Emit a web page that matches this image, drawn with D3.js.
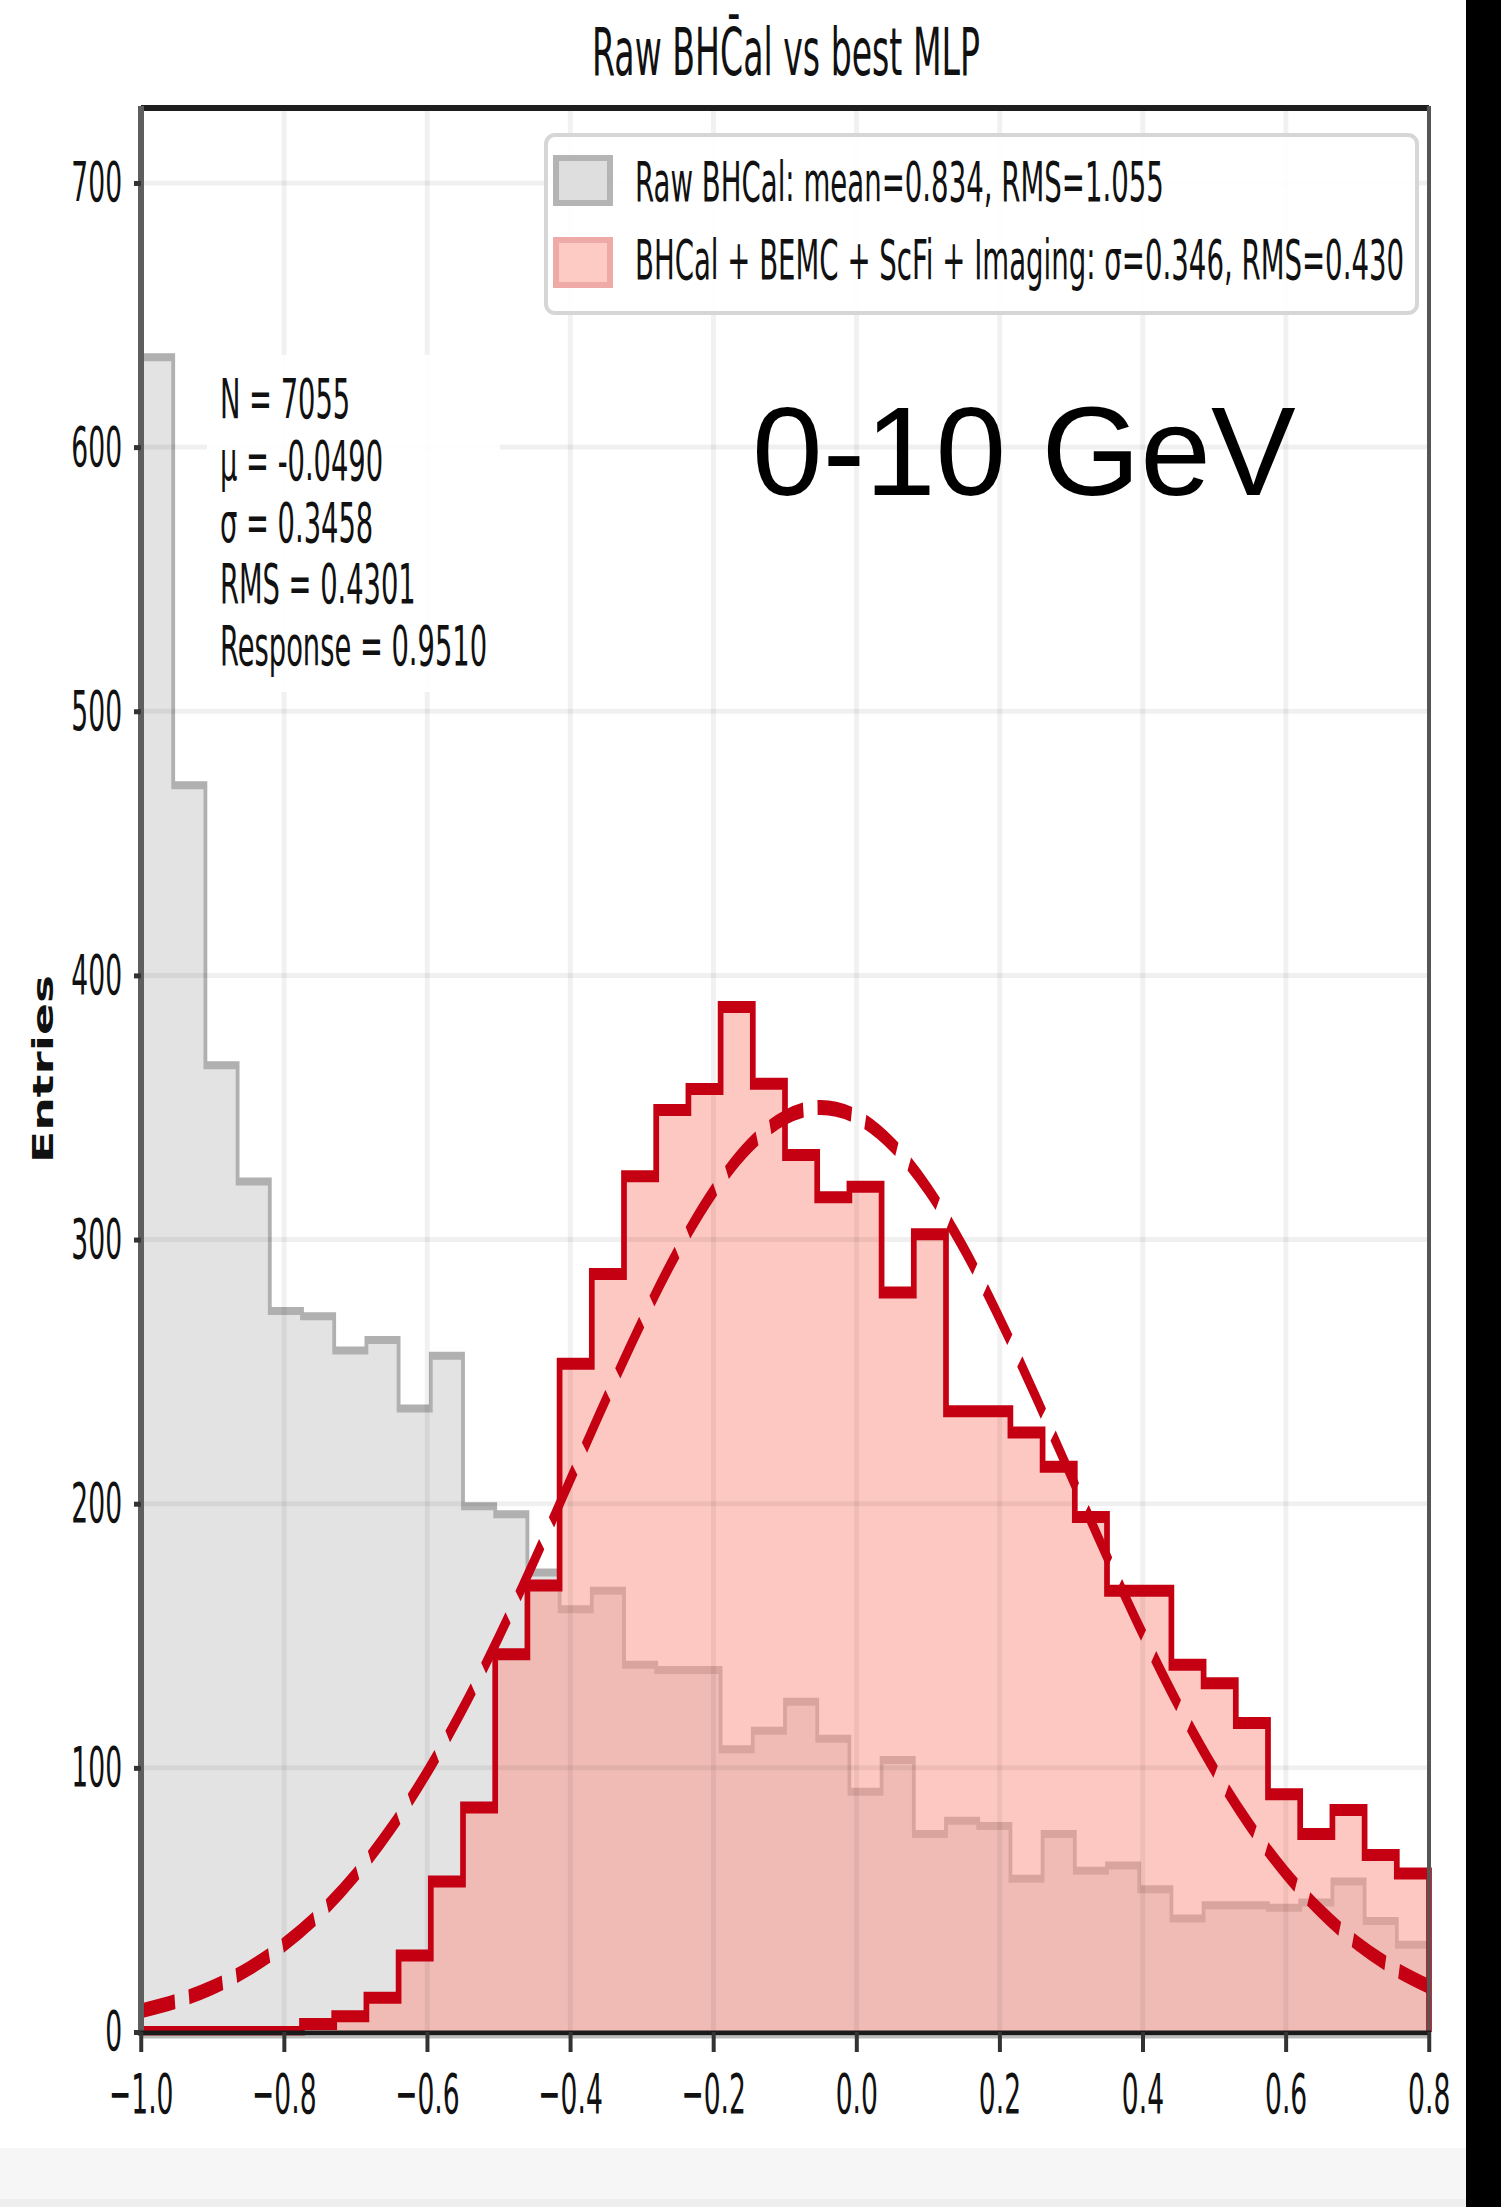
<!DOCTYPE html>
<meta charset="utf-8">
<style>
body { margin: 0; background: #fff; }
svg { display: block; font-family: "DejaVu Sans", sans-serif; }
</style>
<svg width="1501" height="2207"></svg>
<script src="https://d3js.org/d3.v7.min.js"></script>
<script>

// histogram: 40 bins of 0.045 from -1.0 to 0.8
var binStart = -1.0, binWidth = 0.045;
var rawCounts = [634, 472, 366, 322, 273, 271, 258, 262, 236, 256,
                 199, 196, 174, 160, 167, 139, 137, 137, 107, 114,
                 125, 111, 91, 103, 75, 80, 78, 58, 75, 61,
                 63, 54, 43, 48, 48, 47, 49, 57, 42, 33];
var mlpCounts = [0, 0, 0, 0, 0, 3, 6, 13, 29, 57,
                 85, 143, 169, 253, 287, 324, 349, 357, 388, 359,
                 332, 316, 320, 280, 302, 235, 235, 227, 214, 195,
                 167, 167, 139, 132, 117, 90, 75, 84, 67, 60];

// gaussian fit (dashed), sampled every 0.05 from -1.0
var fitX = d3.range(37).map(function(i) { return -1 + i * 0.05; });
var fitY = [8.0, 11.7, 16.9, 23.9, 33.1, 44.8, 59.5, 77.3, 98.4, 122.5,
            149.5, 178.7, 209.1, 239.6, 268.9, 295.6, 318.2, 335.4, 346.2, 350.0,
            346.5, 335.9, 319.0, 296.6, 270.1, 240.8, 210.3, 179.9, 150.7, 123.6,
            99.3, 78.1, 60.1, 45.4, 33.5, 24.3, 17.2];

var legendLabels = ["Raw BHCal: mean=0.834, RMS=1.055",
                    "BHCal + BEMC + ScFi + Imaging: \u03c3=0.346, RMS=0.430"];
var statsLines = ["N = 7055", "\u03bc = -0.0490", "\u03c3 = 0.3458", "RMS = 0.4301", "Response = 0.9510"];
var yTicks = [0, 100, 200, 300, 400, 500, 600, 700];

var svg = d3.select("svg");
svg.append("rect").attr("width", 1501).attr("height", 2207).attr("fill", "#fff");

// the whole chart is squeezed horizontally
var SX = 0.475;
var X0 = 141, X1 = 1429, Y0 = 2032, YT = 109;

var x = d3.scaleLinear().domain([-1, 0.8]).range([X0 / SX, X1 / SX]);
var y = d3.scaleLinear().domain([0, 728]).range([Y0, YT]);

var g = svg.append("g").attr("transform", "scale(" + SX + ",1)");

function stepPoints(counts) {
  var pts = [[binStart, 0]];
  counts.forEach(function(c, i) { pts.push([binStart + i * binWidth, c]); });
  pts.push([binStart + counts.length * binWidth, counts[counts.length - 1]]);
  pts.push([binStart + counts.length * binWidth, 0]);
  return pts;
}

var stepLine = d3.line()
    .x(function(d) { return x(d[0]); })
    .y(function(d) { return y(d[1]); })
    .curve(d3.curveStepAfter);
var stepArea = d3.area()
    .x(function(d) { return x(d[0]); })
    .y0(y(0))
    .y1(function(d) { return y(d[1]); })
    .curve(d3.curveStepAfter);

var rawPts = stepPoints(rawCounts), mlpPts = stepPoints(mlpCounts);

g.append("path").attr("d", stepArea(rawPts)).attr("fill", "#e3e3e3");
g.append("path").attr("d", stepLine(rawPts))
    .attr("fill", "none").attr("stroke", "#b0b0b0").attr("stroke-width", 8);
g.append("path").attr("d", stepArea(mlpPts))
    .attr("fill", "rgb(251,155,142)").attr("fill-opacity", 0.55);

// grid
g.append("g").selectAll("line")
  .data(yTicks.filter(function(d) { return d > 0; }))
  .enter().append("line")
    .attr("x1", x(-1)).attr("x2", x(0.8))
    .attr("y1", function(d) { return y(d); }).attr("y2", function(d) { return y(d); })
    .attr("stroke", "#000").attr("stroke-opacity", 0.06).attr("stroke-width", 5);
g.append("g").selectAll("line")
  .data(x.ticks(10).slice(1, -1))
  .enter().append("line")
    .attr("x1", function(d) { return x(d); }).attr("x2", function(d) { return x(d); })
    .attr("y1", YT).attr("y2", Y0)
    .attr("stroke", "#000").attr("stroke-opacity", 0.055).attr("stroke-width", 5 / SX);

g.append("path").attr("d", stepLine(mlpPts))
    .attr("fill", "none").attr("stroke", "#c40012").attr("stroke-width", 12)
    .attr("stroke-linejoin", "miter");

var fitLine = d3.line()
    .x(function(d, i) { return x(fitX[i]); })
    .y(function(d) { return y(d); })
    .curve(d3.curveMonotoneX);
g.append("path").attr("d", fitLine(fitY))
    .attr("fill", "none").attr("stroke", "#c40012").attr("stroke-width", 15)
    .attr("stroke-dasharray", "72,30");

// frame
g.append("line").attr("x1", x(-1)).attr("x2", x(0.8)).attr("y1", YT - 1).attr("y2", YT - 1)
    .attr("stroke", "#1e1e1e").attr("stroke-width", 6);
g.append("line").attr("x1", x(0.8)).attr("x2", x(0.8)).attr("y1", YT - 3).attr("y2", Y0)
    .attr("stroke", "#555").attr("stroke-width", 4 / SX);
g.append("line").attr("x1", x(-1)).attr("x2", x(-1)).attr("y1", YT - 3).attr("y2", Y0)
    .attr("stroke", "#5e5e5e").attr("stroke-width", 6 / SX);
g.append("line").attr("x1", x(-1) - 3 / SX).attr("x2", x(0.8) + 2 / SX).attr("y1", Y0 + 1).attr("y2", Y0 + 1)
    .attr("stroke", "#1a1a1a").attr("stroke-width", 5);
g.append("line").attr("x1", x(-1)).attr("x2", x(0.8)).attr("y1", Y0 + 5).attr("y2", Y0 + 5)
    .attr("stroke", "#bbb").attr("stroke-width", 3);

// axes
var xAxis = d3.axisBottom(x).ticks(10).tickFormat(d3.format(".1f")).tickSize(20).tickPadding(21);
var gx = g.append("g").attr("transform", "translate(0," + Y0 + ")").call(xAxis);
var yAxis = d3.axisLeft(y).tickValues(yTicks).tickFormat(d3.format("d")).tickSize(7 / SX).tickPadding(25);
var gy = g.append("g").attr("transform", "translate(" + x(-1) + ",0)").call(yAxis);
[gx, gy].forEach(function(a) {
  a.select(".domain").remove();
  a.selectAll("text").attr("fill", "#111").style("font-size", "56px")
      .style("font-family", "DejaVu Sans");
});
gx.selectAll(".tick line").attr("stroke", "#333").attr("stroke-width", 4 / SX);
gy.selectAll(".tick line").attr("stroke", "#333").attr("stroke-width", 5);

// text helpers
function squeezed(str, px, py, fs, sx, anchor) {
  return svg.append("text")
      .attr("transform", "translate(" + px + "," + py + ") scale(" + sx + ",1)")
      .attr("text-anchor", anchor || "start")
      .attr("fill", "#111")
      .style("font-size", fs + "px")
      .text(str);
}
function fitWidth(sel, px, py, w) {
  var bw = sel.node().getBBox().width;
  sel.attr("transform", "translate(" + px + "," + py + ") scale(" + (w / bw) + ",1)");
}

// title
var title = squeezed("Raw BHC\u0304al vs best MLP", 0, 0, 66, 1, "middle");
fitWidth(title, 786, 75, 388);

// stats box
svg.append("rect").attr("x", 207).attr("y", 355).attr("width", 293).attr("height", 337)
    .attr("fill", "#fff").attr("fill-opacity", 0.9);
statsLines.forEach(function(s, i) {
  squeezed(s, 220, 418 + i * 61.8, 55, 0.497);
});

// legend
svg.append("rect").attr("x", 546).attr("y", 135).attr("width", 871).attr("height", 178)
    .attr("rx", 9).attr("fill", "#fff").attr("fill-opacity", 0.88)
    .attr("stroke", "#d6d6d6").attr("stroke-width", 4);
var patchFill = ["#dedede", "#fdcbc4"], patchStroke = ["#b4b4b4", "#eeaaa6"];
legendLabels.forEach(function(s, i) {
  svg.append("rect").attr("x", 556).attr("y", 158 + i * 82).attr("width", 54).attr("height", 45)
      .attr("fill", patchFill[i]).attr("stroke", patchStroke[i]).attr("stroke-width", 6);
  squeezed(s, 635, 201 + i * 78, 56, 0.493);
});

// energy range label
svg.append("text").attr("x", 752).attr("y", 495)
    .style("font-family", "'Liberation Sans', Arial, sans-serif")
    .style("font-size", "127px").attr("fill", "#000")
    .text("0-10 GeV");

// y label
svg.append("text")
    .attr("transform", "translate(53,1069) scale(" + SX + ",1) rotate(-90)")
    .attr("text-anchor", "middle")
    .attr("textLength", 188).attr("lengthAdjust", "spacingAndGlyphs")
    .style("font-size", "60px").style("font-weight", "bold").attr("fill", "#111")
    .text("Entries");

// x label
var xl = svg.append("text").attr("text-anchor", "middle").attr("fill", "#111")
    .style("font-size", "40px");
xl.append("tspan").text("(E - E");
xl.append("tspan").attr("dy", 9).style("font-size", "29px").text("true");
xl.append("tspan").attr("dy", -9).text(")/E");
xl.append("tspan").attr("dy", 9).style("font-size", "29px").text("true");
fitWidth(xl, 785, 2191, 192);

// screenshot edges
svg.append("rect").attr("x", 0).attr("y", 2148).attr("width", 1501).attr("height", 59).attr("fill", "#f6f6f6");
svg.append("rect").attr("x", 0).attr("y", 2199).attr("width", 1501).attr("height", 8).attr("fill", "#eeeeee");
svg.append("rect").attr("x", 1466).attr("y", 0).attr("width", 35).attr("height", 2207).attr("fill", "#000");

</script>
